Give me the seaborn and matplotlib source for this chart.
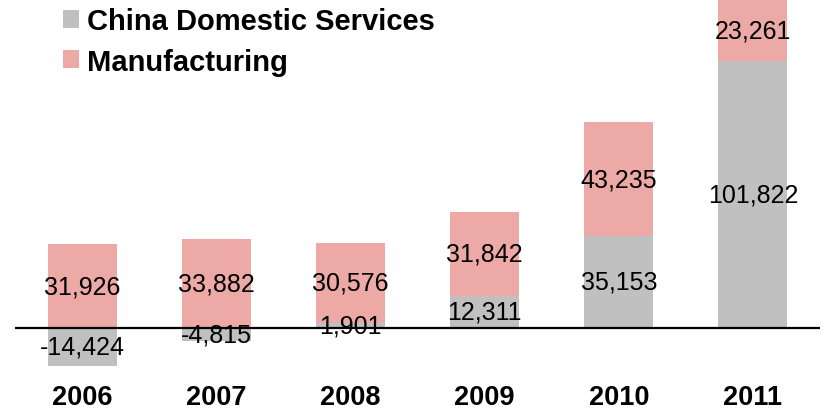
import matplotlib
matplotlib.use("Agg")
import matplotlib.pyplot as plt
from matplotlib.patches import Patch
import seaborn as sns
import pandas as pd

years = ["2006", "2007", "2008", "2009", "2010", "2011"]
domestic_services = [-14424, -4815, 1901, 12311, 35153, 101822]
manufacturing = [31926, 33882, 30576, 31842, 43235, 23261]

GREY = "#C0C0C0"
PINK = "#ECA9A5"

sns.set_theme(style="white")
plt.rcParams["font.family"] = ["Liberation Sans", "DejaVu Sans"]
plt.rcParams["text.color"] = "black"

W, H = 825, 410
fig = plt.figure(figsize=(W / 100, H / 100), dpi=100)
# axes placed in pixel terms: x 15..820, y 1..375 (from top)
ax = fig.add_axes([15 / W, (H - 375) / H, 805 / W, 374 / H])

df = pd.DataFrame({
    "year": years,
    "services": domestic_services,
    "manufacturing": manufacturing,
})
df["pos_base"] = df["services"].clip(lower=0)
df["top"] = df["pos_base"] + df["manufacturing"]

# manufacturing sits on top of positive services; drawn as full stack first
sns.barplot(data=df, x="year", y="top", color=PINK, saturation=1,
            width=0.515, ax=ax, edgecolor="none", linewidth=0)
sns.barplot(data=df, x="year", y="services", color=GREY, saturation=1,
            width=0.515, ax=ax, edgecolor="none", linewidth=0)

ax.set_ylim(-17557, 125083)
ax.set_xlim(-0.5, 5.5)
ax.axhline(0, color="black", lw=1.6, zorder=5)

for i, row in df.iterrows():
    s, m, base = row["services"], row["manufacturing"], row["pos_base"]
    ax.text(i, s / 2, f"{s:,}", ha="center", va="center",
            fontsize=18, color="black", zorder=6)
    ax.text(i, base + m / 2, f"{m:,}", ha="center", va="center",
            fontsize=18, color="black", zorder=6)

for sp in ax.spines.values():
    sp.set_visible(False)
ax.set_yticks([])
ax.set_xlabel("")
ax.set_ylabel("")
ax.tick_params(axis="x", length=0, pad=7)
ax.set_xticks(range(len(years)))
ax.set_xticklabels(years, fontsize=19.5, fontweight="bold", color="black")

handles = [Patch(facecolor=GREY, edgecolor="none", label="China Domestic Services"),
           Patch(facecolor=PINK, edgecolor="none", label="Manufacturing")]
leg = fig.legend(handles=handles, loc="upper left",
                 bbox_to_anchor=(40 / W, 1 - (-15) / H), frameon=False,
                 prop={"size": 21, "weight": "bold"},
                 handlelength=0.55, handleheight=0.55, handletextpad=0.25,
                 labelspacing=0.42, borderpad=0.3)
for t in leg.get_texts():
    t.set_color("black")

fig.savefig("out.png", dpi=100)
